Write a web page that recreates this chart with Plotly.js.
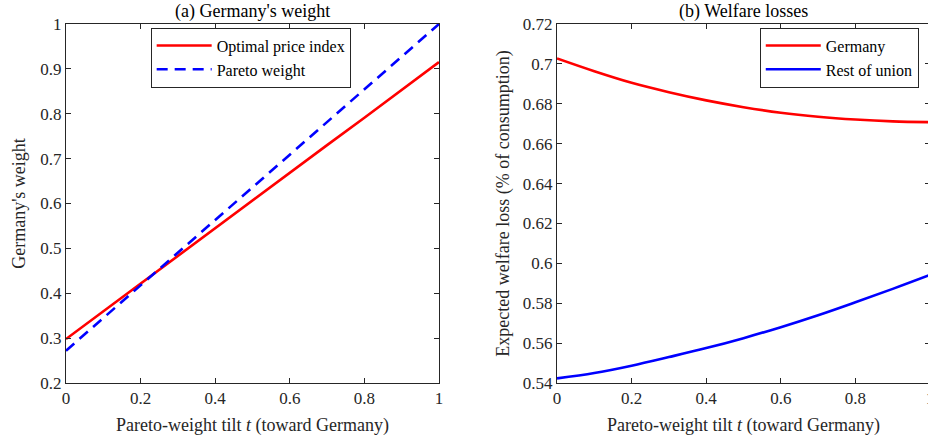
<!DOCTYPE html>
<html>
<head>
<meta charset="utf-8">
<script src="https://cdn.plot.ly/plotly-3.0.1.min.js"></script>
<style>
html,body{margin:0;padding:0;overflow:hidden;background:#fff;}
#chart{width:931px;height:443px;}
</style>
</head>
<body>
<div id="chart"></div>
<script>
// Data
const tilt = [0, 0.1, 0.2, 0.3, 0.4, 0.5, 0.6, 0.7, 0.8, 0.9, 1.0];
const optimalPriceIndex = [0.298, 0.360, 0.421, 0.483, 0.545, 0.607, 0.668, 0.730, 0.791, 0.853, 0.915];
const paretoWeight = [0.272, 0.345, 0.418, 0.491, 0.564, 0.636, 0.709, 0.782, 0.855, 0.927, 1.0];
const lossGermany = [0.7027, 0.6963, 0.6905, 0.6858, 0.6817, 0.6783, 0.6755, 0.6735, 0.6721, 0.6712, 0.6708];
const lossRestOfUnion = [0.5423, 0.5450, 0.5487, 0.5530, 0.5575, 0.5625, 0.5680, 0.5740, 0.5805, 0.5872, 0.5942];

const FONT = "'Liberation Serif', 'Times New Roman', serif";
const AX = '#262626';

const traces = [
  {x: tilt, y: optimalPriceIndex, name: 'Optimal price index', mode: 'lines',
   line: {color: '#ff0000', width: 2.6}, xaxis: 'x', yaxis: 'y', legend: 'legend'},
  {x: tilt, y: paretoWeight, name: 'Pareto weight', mode: 'lines',
   line: {color: '#0000ff', width: 2.6, dash: '11px,7px'}, xaxis: 'x', yaxis: 'y', legend: 'legend'},
  {x: tilt, y: lossGermany, name: 'Germany', mode: 'lines', line: {shape: 'spline',
   color: '#ff0000', width: 2.6}, xaxis: 'x2', yaxis: 'y2', legend: 'legend2'},
  {x: tilt, y: lossRestOfUnion, name: 'Rest of union', mode: 'lines', line: {shape: 'spline',
   color: '#0000ff', width: 2.6}, xaxis: 'x2', yaxis: 'y2', legend: 'legend2'}
];

function axisBase(extra) {
  return Object.assign({
    showline: true, linecolor: AX, linewidth: 1, mirror: 'ticks',
    ticks: 'inside', ticklen: 5, tickcolor: AX, tickwidth: 1,
    showgrid: false, zeroline: false, ticklabeloverflow: 'allow',
    tickfont: {family: FONT, size: 17, color: AX}
  }, extra);
}

const xTitle = 'Pareto-weight tilt <i>t</i> (toward Germany)';
const titleFont = {family: FONT, size: 18, color: AX};

const layout = {
  width: 931, height: 443,
  margin: {l: 66, r: 1, t: 24, b: 60},
  paper_bgcolor: '#fff', plot_bgcolor: '#fff',
  font: {family: FONT, color: AX},
  showlegend: true,
  xaxis: axisBase({domain: [0, 0.4317], range: [0, 1], dtick: 0.2, anchor: 'y',
    title: {text: xTitle, font: titleFont, standoff: 10}}),
  yaxis: axisBase({domain: [0, 1], range: [0.2, 1], dtick: 0.1, anchor: 'x',
    title: {text: "Germany's weight", font: titleFont, standoff: 10}}),
  xaxis2: axisBase({domain: [0.5683, 1], range: [0, 1], dtick: 0.2, anchor: 'y2',
    title: {text: xTitle, font: titleFont, standoff: 10}}),
  yaxis2: axisBase({domain: [0, 1], range: [0.54, 0.72], dtick: 0.02, anchor: 'x2',
    title: {text: 'Expected welfare loss (% of consumption)', font: titleFont, standoff: 8}}),
  legend: {x: 0.098, y: 0.99, xanchor: 'left', yanchor: 'top',
    bgcolor: '#fff', bordercolor: AX, borderwidth: 1,
    font: {family: FONT, size: 16, color: '#000'}, itemwidth: 55, tracegroupgap: 0},
  legend2: {x: 0.987, y: 0.99, xanchor: 'right', yanchor: 'top',
    bgcolor: '#fff', bordercolor: AX, borderwidth: 1,
    font: {family: FONT, size: 16, color: '#000'}, itemwidth: 55, tracegroupgap: 0},
  annotations: [
    {text: "(a) Germany's weight", xref: 'x domain', yref: 'paper', x: 0.5, y: 1, yshift: 0,
     xanchor: 'center', yanchor: 'bottom', showarrow: false,
     font: {family: FONT, size: 18, color: '#000'}},
    {text: '(b) Welfare losses', xref: 'x2 domain', yref: 'paper', x: 0.5, y: 1, yshift: 0,
     xanchor: 'center', yanchor: 'bottom', showarrow: false,
     font: {family: FONT, size: 18, color: '#000'}}
  ]
};

Plotly.newPlot('chart', traces, layout, {displayModeBar: false, staticPlot: true});
</script>
</body>
</html>
